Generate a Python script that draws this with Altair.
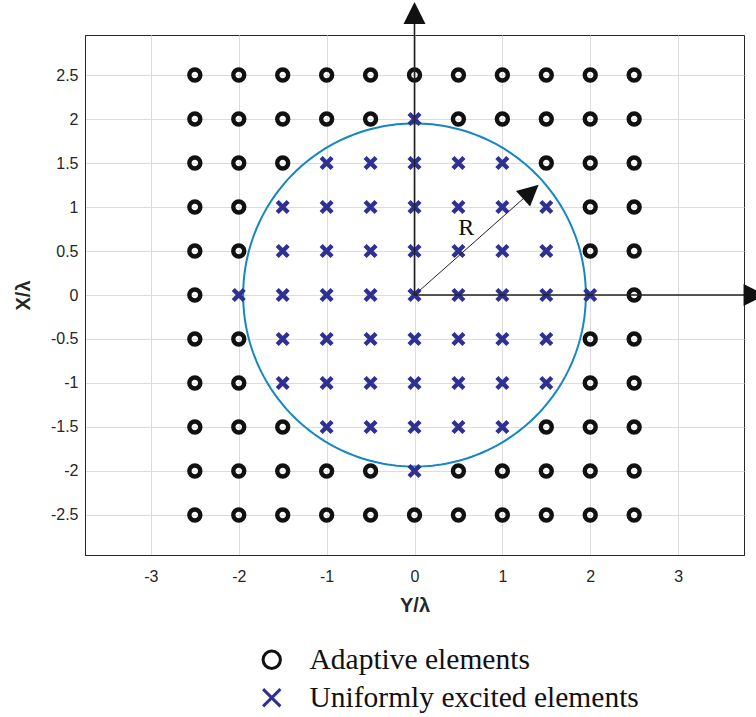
import altair as alt
import pandas as pd
import numpy as np

# ---------------- data ----------------
grid_vals = [-2.5, -2.0, -1.5, -1.0, -0.5, 0.0, 0.5, 1.0, 1.5, 2.0, 2.5]
# half-width of the span of uniformly excited elements in each row (None = none)
excited_half_span = {2.5: None, 2.0: 0.0, 1.5: 1.0, 1.0: 1.5, 0.5: 1.5, 0.0: 2.0,
                     -0.5: 1.5, -1.0: 1.5, -1.5: 1.0, -2.0: 0.0, -2.5: None}
x_ticks = [-3, -2, -1, 0, 1, 2, 3]
y_ticks = grid_vals
circle_R = 1.95
series_names = ["Adaptive elements", "Uniformly excited elements"]

# arrows: (x0, y0, x1, y1, width)
arrow_x0 = [0.0, 0.0, 0.0]
arrow_y0 = [0.0, 0.0, 0.0]
arrow_x1 = [0.0, 3.75, 1.30]
arrow_y1 = [3.08, 0.0, 1.15]
arrow_w = [1.6, 1.6, 1.0]
# arrowheads: centre, rotation, size
head_x = [0.0, 3.87, 1.324]
head_y = [3.205, 0.0, 1.173]
head_angle = [0, 90, 48]
head_size = [484, 484, 441]
r_label = {"x": [0.59], "y": [0.76], "t": ["R"]}

# ---------------- tables ----------------
rows = []
for yv in grid_vals:
    span = excited_half_span[yv]
    for xv in grid_vals:
        excited = span is not None and abs(xv) <= span
        rows.append({"x": xv, "y": yv, "type": series_names[1] if excited else series_names[0]})
elements = pd.DataFrame(rows)

theta = np.linspace(0, 2 * np.pi, 241)
circle = pd.DataFrame({"x": circle_R * np.cos(theta), "y": circle_R * np.sin(theta),
                       "o": np.arange(len(theta))})
arrows = pd.DataFrame({"x": arrow_x0, "y": arrow_y0, "x1": arrow_x1, "y1": arrow_y1, "w": arrow_w})
heads = pd.DataFrame({"x": head_x, "y": head_y, "a": head_angle, "s": head_size})
rlab = pd.DataFrame(r_label)

# ---------------- scales / axes ----------------
xs = alt.Scale(domain=[-3.75, 3.75], nice=False, zero=False)
ys = alt.Scale(domain=[-2.955, 2.955], nice=False, zero=False)
lab_expr = "replace(datum.label, '\u2212', '-')"
xaxis = alt.Axis(title="Y/λ", values=x_ticks, format="~g", labelExpr=lab_expr, ticks=False,
                 labelPadding=13, titlePadding=11, grid=True)
yaxis = alt.Axis(title="X/λ", values=y_ticks, format="~g", labelExpr=lab_expr, ticks=False,
                 labelPadding=7, titlePadding=17, grid=True)


def X(f):
    return alt.X(f, type="quantitative", scale=xs, axis=xaxis)


def Y(f):
    return alt.Y(f, type="quantitative", scale=ys, axis=yaxis)


x_shape = "M-1,-1L1,1M1,-1L-1,1"

circ = alt.Chart(circle).mark_line(color="#1486c6", strokeWidth=2).encode(
    x=X("x"), y=Y("y"), order="o:Q")

leg = alt.Legend(title=None, orient="none", legendX=172, legendY=610)
pts = alt.Chart(elements).mark_point(filled=False, strokeWidth=4.4, size=120, opacity=1).encode(
    x=X("x"), y=Y("y"),
    shape=alt.Shape("type:N", scale=alt.Scale(domain=series_names, range=["circle", x_shape]),
                    legend=leg),
    color=alt.Color("type:N", scale=alt.Scale(domain=series_names, range=["#111111", "#2e3192"]),
                    legend=leg),
)

lines = alt.Chart(arrows).mark_rule(color="#222222").encode(
    x=X("x"), y=Y("y"), x2="x1", y2="y1",
    strokeWidth=alt.StrokeWidth("w:Q", scale=None))

hd = alt.Chart(heads).mark_point(shape="M0,-1L1,1L-1,1Z", filled=True, color="#111111",
                                 opacity=1).encode(
    x=X("x"), y=Y("y"),
    angle=alt.Angle("a:Q", scale=None),
    size=alt.Size("s:Q", scale=None))

txt = alt.Chart(rlab).mark_text(font="Liberation Serif", fontSize=24, color="#111111").encode(
    x=X("x"), y=Y("y"), text="t:N")

chart = alt.layer(circ, pts, lines, hd, txt).properties(
    width=659, height=520,
    background="white",
    autosize=alt.AutoSizeParams(type="none"),
    padding={"left": 85, "top": 35, "right": 12, "bottom": 162},
).configure_view(stroke="#262626", strokeWidth=1).configure_axis(
    labelFont="Liberation Sans", labelFontSize=16, labelColor="#262626",
    titleFont="Liberation Sans", titleFontSize=20, titleFontWeight="bold", titleColor="#262626",
    gridColor="#dcdcdc", gridWidth=1, domainColor="#262626", domainWidth=1,
).configure_legend(
    labelFont="Liberation Serif", labelFontSize=29.5, labelColor="#111111",
    symbolSize=300, symbolStrokeWidth=3, rowPadding=7, labelOffset=23, labelLimit=0,
)

chart.save("out.html", embed_options={"renderer": "svg", "actions": False})
